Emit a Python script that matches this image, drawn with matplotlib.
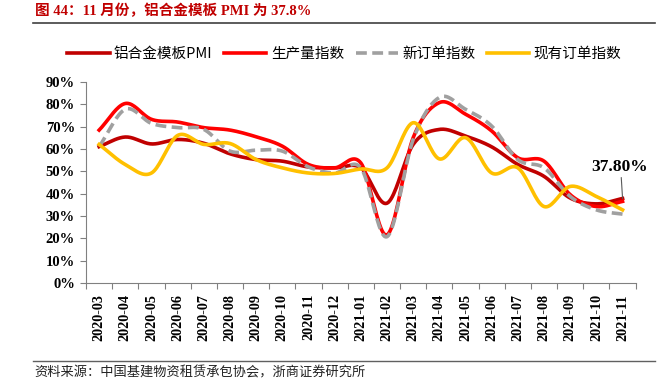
import numpy as np
import matplotlib
matplotlib.use("Agg")
import matplotlib.pyplot as plt

months = ["2020-03", "2020-04", "2020-05", "2020-06", "2020-07", "2020-08", "2020-09",
          "2020-10", "2020-11", "2020-12", "2021-01", "2021-02", "2021-03", "2021-04",
          "2021-05", "2021-06", "2021-07", "2021-08", "2021-09", "2021-10", "2021-11"]

pmi = [61.0, 65.3, 62.2, 64.2, 62.5, 57.8, 55.2, 54.5, 51.9, 51.5, 51.5,
       35.7, 62.0, 68.7, 65.7, 60.9, 53.0, 47.7, 38.0, 35.4, 37.8]
production = [68.4, 80.3, 73.2, 72.0, 69.5, 68.4, 65.4, 61.2, 53.0, 51.5, 53.7,
              21.5, 65.0, 80.7, 75.5, 68.0, 56.0, 54.5, 39.5, 34.2, 36.5]
new_orders = [61.0, 77.7, 71.4, 69.5, 68.7, 59.0, 59.4, 59.0, 51.9, 49.2, 51.5,
              20.7, 64.2, 83.0, 77.7, 70.2, 55.2, 51.5, 38.7, 32.7, 30.8]
backlog = [62.0, 53.0, 49.2, 66.0, 62.0, 62.4, 55.2, 51.5, 49.2, 49.0, 51.0,
           51.5, 71.7, 55.5, 65.0, 49.2, 51.5, 34.2, 43.2, 38.7, 32.7]

series = [
    ("铝合金模板PMI", pmi, "#c00000", "-"),
    ("生产量指数", production, "#ff0000", "-"),
    ("新订单指数", new_orders, "#a0a0a0", "--"),
    ("现有订单指数", backlog, "#ffc000", "-"),
]

CJK = ["Noto Sans CJK SC", "DejaVu Sans"]
SERIF = ["Liberation Serif", "Noto Sans CJK SC"]


def smooth(y, steps=20):
    """Catmull-Rom curve through the points, like Excel's smoothed line."""
    y = np.asarray(y, dtype=float)
    x = np.arange(len(y), dtype=float)
    p = np.concatenate([[2 * y[0] - y[1]], y, [2 * y[-1] - y[-2]]])
    xs, ys = [], []
    for i in range(len(y) - 1):
        t = np.linspace(0, 1, steps, endpoint=False)
        p0, p1, p2, p3 = p[i], p[i + 1], p[i + 2], p[i + 3]
        seg = 0.5 * ((2 * p1) + (-p0 + p2) * t + (2 * p0 - 5 * p1 + 4 * p2 - p3) * t ** 2
                     + (-p0 + 3 * p1 - 3 * p2 + p3) * t ** 3)
        xs.append(x[i] + t)
        ys.append(seg)
    xs.append([x[-1]])
    ys.append([y[-1]])
    return np.concatenate(xs), np.concatenate(ys)


fig = plt.figure(figsize=(6.67, 3.84), dpi=100)
ax = fig.add_axes([0.129, 0.263, 0.824, 0.524])

x = np.arange(len(months))
for label, vals, color, ls in series:
    sx, sy = smooth(vals)
    ax.plot(sx, sy, color=color, linestyle=ls, linewidth=2.6,
            label=label, dashes=(3, 1.5) if ls == "--" else (None, None))

ax.set_xlim(-0.5, len(months) - 0.5)
ax.set_ylim(0, 90)
ax.set_yticks(range(0, 91, 10))
ax.set_yticklabels([f"{v}%" for v in range(0, 91, 10)],
                   fontfamily=SERIF, fontweight="bold", fontsize=10.5)
ax.set_xticks(np.arange(-0.5, len(months), 1), minor=False)
ax.set_xticklabels([])
ax.set_xticks(x, minor=True)
ax.set_xticklabels(months, minor=True, rotation=90, fontfamily=SERIF,
                   fontweight="bold", fontsize=10.2)
ax.tick_params(axis="x", which="minor", length=0, pad=8)
ax.tick_params(axis="x", which="major", length=4, direction="out", color="#808080")
ax.tick_params(axis="y", length=4, direction="out", color="#808080", pad=4)
for side in ("top", "right"):
    ax.spines[side].set_visible(False)
for side in ("left", "bottom"):
    ax.spines[side].set_color("#808080")

# annotate last value
ax.annotate(f"{pmi[-1]:.2f}%", xy=(x[-1], pmi[-1]), xytext=(x[-1] - 0.1, 52),
            ha="center", va="center", fontfamily=SERIF, fontweight="bold", fontsize=12.5,
            arrowprops=dict(arrowstyle="-", color="#595959", lw=0.8,
                            shrinkA=0, shrinkB=0, relpos=(0.52, 0.0)))

leg = ax.legend(loc="lower center", bbox_to_anchor=(0.47, 1.04), ncol=4, frameon=False,
                prop={"family": CJK, "size": 10.5}, handlelength=2.9,
                columnspacing=0.8, handletextpad=0.3)

# title, rules, source
fig.text(0.052, 0.972, "图 44：11 月份，铝合金模板 PMI 为 37.8%", color="#c00000",
         fontfamily=SERIF, fontweight="bold", fontsize=10.5, ha="left", va="center")
fig.add_artist(plt.Line2D([0.05, 0.982], [0.941, 0.941], color="#404040", lw=1.2))
fig.add_artist(plt.Line2D([0.05, 0.982], [0.06, 0.06], color="#606060", lw=1.0))
fig.text(0.052, 0.029, "资料来源：中国基建物资租赁承包协会，浙商证券研究所", color="#222222",
         fontfamily=CJK, fontsize=9.5, ha="left", va="center")

fig.savefig("out.png", dpi=100)
